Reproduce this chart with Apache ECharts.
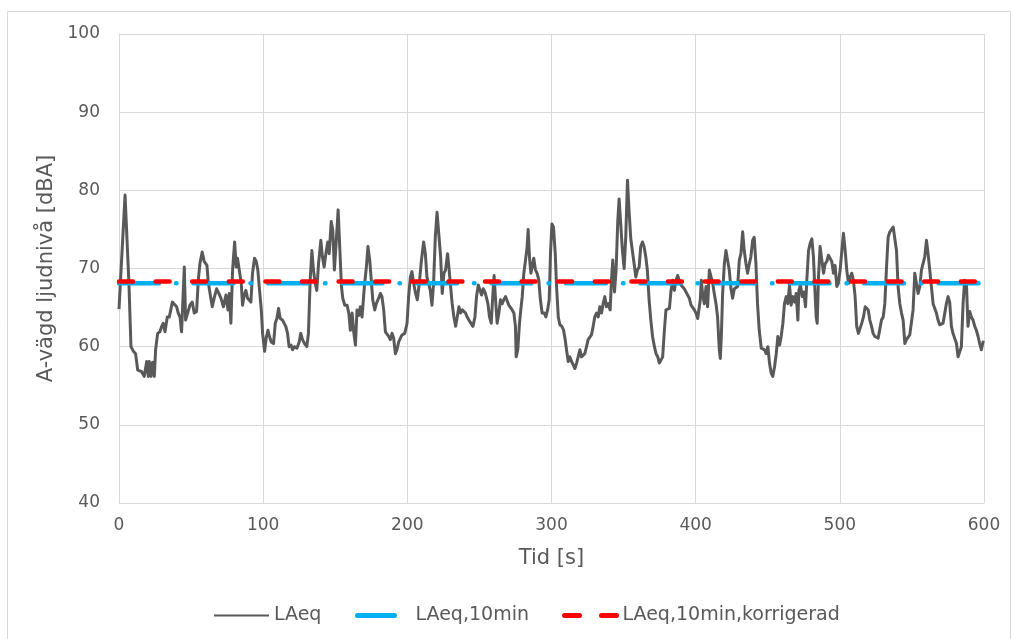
<!DOCTYPE html>
<html>
<head>
<meta charset="utf-8">
<script src="https://cdn.jsdelivr.net/npm/echarts@6/dist/echarts.min.js"></script>
<style>
html,body{margin:0;padding:0;background:#fff;}
#chart{width:1014px;height:639px;}
</style>
</head>
<body>
<div id="chart"></div>
<script>
// ---- data ----
const seriesNames = ['LAeq', 'LAeq,10min', 'LAeq,10min,korrigerad'];
const xTicks = [0, 100, 200, 300, 400, 500, 600];
const yTicks = [40, 50, 60, 70, 80, 90, 100];
const laeq10min = 68.1;
const laeq10minKorr = 68.35;
const times = [
0,4.2,6.9,8.3,10,11.5,13,15.7,17.5,19.2,20.3,21,22.2,23.3,24.5,25.4,26.8,28.4,29.6,30.7,31.9,33.5,34.9,36,37,38.3,40,41.1,42.3,43.4,44.6,45.3,46.2,47.6,49.2,50.8,52.2,53.8,55,56.1,57.7,59.1,61,61.9,63.5,64.7,66,67.7,68.8,70.7,
72.4,74.2,75.6,76.5,77.6,78.8,80.2,81.3,82.2,83.4,84.8,85.7,86.9,88,89.2,90.3,91.5,92.6,94,95.2,96.3,97.5,98.7,99.6,101,102.1,103.3,104.4,105.6,107.2,108.4,109.5,110.7,111.8,113.4,114.6,115.7,116.9,118,119.4,120.4,121.7,123.4,125,126.1,127.3,128.7,130.3,131.4,132.6,133.8,134.9,136.1,137.2,138.4,140,141.1,142.3,143.5,144.8,145.8,147.2,148.3,149.4,150.6,152,153.1,154.3,155.2,156.6,158.2,159.4,160.5,161.7,162.8,164,165.1,166.3,167.4,168.6,170.2,171.6,172.7,173.9,175,176,177.4,178.5,180.1,181.3,182.4,183.6,184.8,185.9,187.1,188.2,189.4,190.5,191.7,192.8,194,195.1,196.3,198.2,199.8,
200.9,202.1,203.2,204.4,205.5,206.9,208.3,209.7,211.3,212.5,213.6,214.8,215.9,217.1,218.2,219.4,220.6,221.8,223.1,224.2,225.4,226.5,227.9,228.8,230,231.1,232.3,233.5,234.6,235.8,236.9,238.1,239.2,240.4,241.5,242.7,243.8,245.5,246.9,248,249.2,250.3,251.5,252.6,253.8,254.7,255.9,257,258.2,259.3,260.2,261.2,262.3,263.5,264.6,265.8,266.9,268.1,269.3,270.4,271.6,272.7,273.9,275,275.5,276.6,277.8,278.7,279.7,280.8,282,283.1,283.8,284.7,285.7,286.6,287.7,288.9,290,291.2,292.3,293.5,295,296.1,297.3,298.4,299.3,
300.3,301.4,302.6,303.5,304.7,305.8,307.2,308.4,309.5,310.4,311.6,312.7,313.9,315,316.2,317.4,318.5,319.7,320.8,322,323.1,324.3,325.4,326.6,327.7,328.9,330,331.2,332.4,333.5,334.7,335.8,337,338.1,339.3,340.7,341.6,342.5,343.7,344.8,346,346.9,348.1,349.2,350.4,351.5,352.7,353.8,355,356.2,357.3,358.5,359.6,360.8,361.9,363.1,364.2,365.4,366.5,367.7,368.9,370.1,371.4,372.5,373.7,374.8,376,377.1,378.3,379.4,380.6,381.8,382.9,384.1,385.2,386.4,387.5,388.7,389.8,391,392.1,393.3,394.5,395.6,396.8,397.9,399.1,
400.2,401.4,402.5,403.2,403.9,404.9,406,407.2,408.3,409.5,410.6,411.8,412.9,414.1,415.2,416.4,417.1,417.8,418.7,419.9,421,422.2,423.3,424.5,425.6,426.8,427.9,429.1,430.3,431.4,432.6,433.7,434.9,436,437.2,438.3,439.5,440.6,441.8,442.9,444.1,445.5,446.6,447.8,448.9,450.1,451.2,452.4,453.5,454.7,455.9,457,458.2,459.3,460.5,461.6,462.8,463.9,465.1,466.2,467.4,468.6,469.7,470.9,471.6,472.7,473.9,475,476.2,477.1,478.3,479.4,480.6,481.7,482.6,483.6,484.3,485.2,486.3,487.5,488.7,489.8,491,492.1,493.3,494.4,495.6,496.7,497.9,499,
500.2,501.4,502.5,503.7,504.8,506,507.1,508.3,509.4,510.6,511.7,512.9,514.1,515.2,516.4,517.6,518.8,519.7,520.8,522,523.1,524.3,525.4,526.6,527.8,528.9,530.1,531.2,532.4,533.5,534.7,535.8,537,538.1,539.3,540.4,541.6,542.8,543.9,545.1,546.2,547.4,548.5,549.7,550.8,552,553.1,554.3,555.5,556.6,557.8,558.9,560.1,561.2,562.4,563.5,564.7,565.8,567,568.1,569.3,570.5,571.6,572.8,573.9,575.1,576.2,577.4,578.5,579.7,580.9,582,583.2,584.3,585.5,586.6,587.8,588.9,590.1,591.2,592.4,593.6,594.7,595.9,597,598.2,599.3,600
];
const laeq = [
64.8,79.4,68,60,59.4,59.1,57,56.8,56.2,58.1,56.2,58.1,56.2,58,56.2,59.6,61.7,61.9,62.6,63,61.9,63.8,63.8,64,65.7,65.5,65.1,64.3,63.8,61.9,62.1,70.2,63.4,64.3,65.3,65.7,64.3,64.5,68.5,70.6,72.1,70.9,70.4,68.3,66.4,65.1,66.2,67.4,67,66.2,
65.1,66.6,64.7,66.8,63,69.8,73.4,70.2,71.3,71.5,68.1,65.3,66.6,67.2,66.2,66,65.7,69.4,71.3,70.9,69.8,67.2,64.7,61.7,59.4,61.1,62.1,61.3,60.6,60.4,63,63.6,64.9,63.6,63.4,63.2,62.6,61.7,60,60.2,59.6,60,59.8,60.6,61.7,60.9,60.4,60,61.7,68.5,72.3,69.8,68.1,67.2,70.6,73.6,71.5,70.2,71.9,73.4,71.9,76,74.9,69.8,73.2,77.5,72.8,67.7,66.2,65.3,65.3,64.3,62.1,64.3,61.9,60.2,64.7,64,65.1,63.8,67.7,70.2,72.8,71.1,68.5,66,64.7,65.5,66.2,66.8,66.4,64.7,61.9,61.7,61.3,60.9,61.7,61.1,59.1,59.6,60.6,60.4,61.5,61.7,63,
66.4,68.9,69.6,68.1,67,66,68.1,70.9,73.4,71.9,68.9,68.1,67.2,65.3,68.1,74,77.2,77.4,71.5,66.8,69.4,69.8,71.9,70.2,67.7,65.5,63.8,62.6,63.8,65.1,64.3,64.7,64.7,64.3,63.8,63.4,63.2,62.6,63.8,66.4,67.9,67.7,66.6,67.4,67,66.4,65.5,63.8,63,66.6,69.1,66,63,64.3,66,65.5,66,66.4,66.4,65.3,65.1,64.7,64.3,62.6,58.7,59.6,63,64.7,66.4,69.4,71.1,72.8,75,71.5,69.4,70.2,71.3,69.8,69.4,68.5,66,64.3,64.3,63.8,64.7,66,71.9,
75.7,75.3,71.9,67.7,63.8,62.8,62.6,62.1,60.9,59.6,58.1,58.7,58.1,57.7,57.2,57.9,58.7,59.6,58.7,58.9,59.1,60,60.9,61.1,61.5,62.6,63.8,64.3,63.8,65.1,64.3,65.5,66.4,65.1,65.5,64.7,68.5,71.1,67,69.8,76.2,78.9,79.1,72.3,70,74,81.3,77.4,73.8,73.6,70.6,68.9,69.8,70.2,72.8,73.4,72.8,71.5,69.8,66,63.4,61.3,60,59.1,58.7,57.9,57.7,58.7,62.1,64.7,64.9,64.9,67.2,68.5,67.2,68.5,69.1,68.9,67.9,67.7,67.4,67,66.8,66.2,65.3,65.1,64.7,
64.3,63.6,63.4,66,68.5,66.6,65.5,67.7,65.1,69.8,69.6,68.1,66.8,65.5,63.8,59.6,58.5,61.3,66.8,70.6,72.3,72.1,69.8,67.4,66.2,67.4,67.2,67.7,71.1,71.9,74.7,72.3,70.6,69.4,70.6,71.5,73.6,74,70.6,65.5,62.1,59.8,59.6,59.6,59.1,60,57.9,56.6,56.2,57.4,59.1,61.3,60.2,61.3,63,65.5,66.4,65.5,67.9,65.3,66.4,65.7,66.8,63.4,67.2,67.9,66.4,67,65.1,68.5,72.3,73.2,73.8,71.5,67.7,63.8,63,68.9,72.8,71.1,69.4,70.6,70.9,71.7,71.9,70.9,69.4,70.4,67.7,68.1,
69.8,72.3,74.5,72.3,69.8,68.1,68.9,69.4,68.5,66.4,62.6,61.7,61.7,63,63.8,65.1,64.9,64.7,63.4,62.6,61.7,61.3,61.3,61.1,61.1,63.4,63.8,65.5,70.2,74,74.7,74.7,75.3,75.5,72.3,67.7,65.5,64.3,63.4,60.4,60.9,61.1,61.5,61.7,64.7,69.4,68.1,66.8,67.7,69.8,69.8,71.5,73.6,71.9,69.8,67.7,65.5,64.9,64.3,63.4,62.8,62.6,63,63,65.5,66.4,65.7,62.6,61.7,61.5,60.4,58.7,58.5,60,65.5,68.5,68.1,62.6,64.5,63.8,63.4,62.6,62.1,61.3,60.4,59.6,60.6,60.5
];

const lineData = times.map((t, i) => [t, laeq[i]]);
const flat10 = [[xTicks[0], laeq10min], [xTicks[xTicks.length - 1], laeq10min]];
const flatKorr = [[xTicks[0], laeq10minKorr], [xTicks[xTicks.length - 1], laeq10minKorr]];

const FONT = '"DejaVu Sans", Verdana, sans-serif';
const TXT = '#595959';

const chart = echarts.init(document.getElementById('chart'), null, {renderer: 'canvas'});
const legendCommon = {
  top: 601, itemHeight: 14, itemGap: 0,
  textStyle: {fontFamily: FONT, fontSize: 19, color: TXT},
  itemStyle: {opacity: 0},
  selectedMode: false
};
chart.setOption({
  animation: false,
  backgroundColor: '#ffffff',
  graphic: [{
    type: 'rect', silent: true, z: -10,
    shape: {x: 7.5, y: 11.5, width: 1003, height: 640},
    style: {fill: 'none', stroke: '#d9d9d9', lineWidth: 1}
  }],
  grid: {left: 119, right: 30, top: 34, bottom: 136, containLabel: false},
  legend: [
    Object.assign({}, legendCommon, {left: 208, itemWidth: 55, data: [seriesNames[0]]}),
    Object.assign({}, legendCommon, {left: 350, itemWidth: 53, data: [seriesNames[1]], lineStyle: {type: [37, 100], width: 5}}),
    Object.assign({}, legendCommon, {left: 557, itemWidth: 53, data: [seriesNames[2]], lineStyle: {type: [15, 22], width: 5}})
  ],
  xAxis: {
    type: 'value', min: xTicks[0], max: xTicks[xTicks.length - 1], interval: 100,
    name: 'Tid [s]', nameLocation: 'middle', nameGap: 45,
    nameTextStyle: {fontFamily: FONT, fontSize: 21, color: TXT},
    axisLine: {show: true, lineStyle: {color: '#d9d9d9', width: 1}},
    axisTick: {show: false},
    axisLabel: {fontFamily: FONT, fontSize: 17, color: TXT, margin: 14},
    splitLine: {show: true, lineStyle: {color: '#d9d9d9', width: 1}}
  },
  yAxis: {
    type: 'value', min: yTicks[0], max: yTicks[yTicks.length - 1], interval: 10,
    name: 'A-vägd ljudnivå [dBA]', nameLocation: 'middle', nameGap: 60,
    nameTextStyle: {fontFamily: FONT, fontSize: 21, color: TXT},
    axisLine: {show: true, lineStyle: {color: '#d9d9d9', width: 1}},
    axisTick: {show: false},
    axisLabel: {fontFamily: FONT, fontSize: 17, color: TXT, margin: 19},
    splitLine: {show: true, lineStyle: {color: '#d9d9d9', width: 1}}
  },
  series: [
    {
      name: seriesNames[0], type: 'line', data: lineData,
      symbol: 'none', showSymbol: false,
      lineStyle: {color: '#595959', width: 3, join: 'round'},
      itemStyle: {color: '#595959'}
    },
    {
      name: seriesNames[1], type: 'line', data: flat10,
      symbol: 'none', showSymbol: false,
      lineStyle: {color: '#00b0f0', width: 4.5, type: [40, 17, 0.5, 17], cap: 'round'},
      itemStyle: {color: '#00b0f0'}
    },
    {
      name: seriesNames[2], type: 'line', data: flatKorr,
      symbol: 'none', showSymbol: false,
      lineStyle: {color: '#ff0000', width: 4.5, type: [14, 22.6], cap: 'round'},
      itemStyle: {color: '#ff0000'}
    }
  ]
});
</script>
</body>
</html>
